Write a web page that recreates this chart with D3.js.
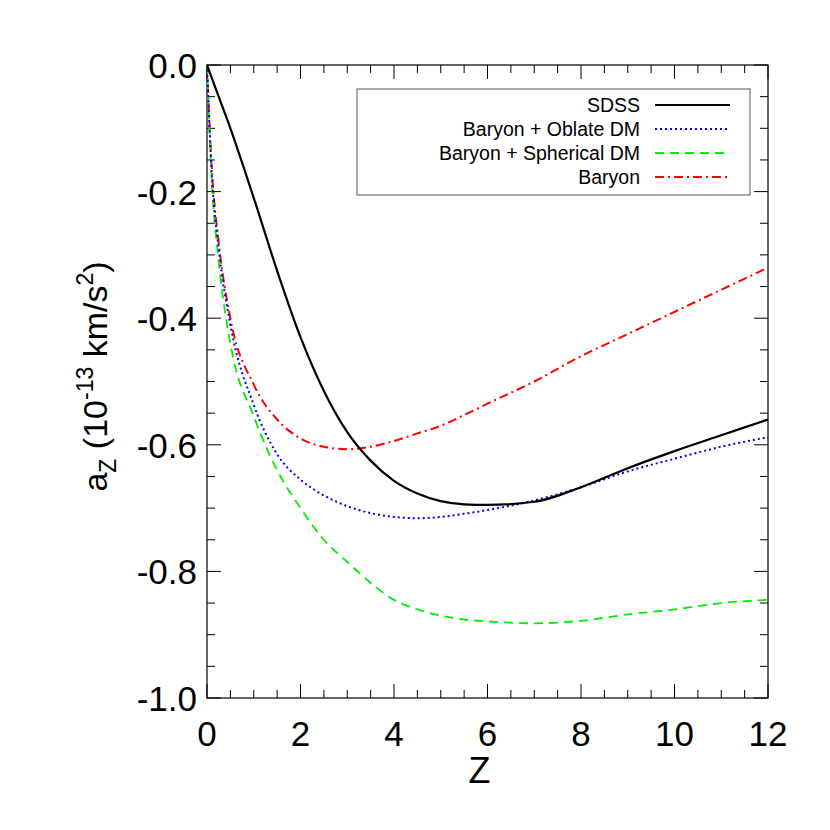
<!DOCTYPE html>
<html><head><meta charset="utf-8">
<script src="https://cdn.jsdelivr.net/npm/d3@7"></script>
<style>body{margin:0;background:#fff}text{font-family:"Liberation Sans",Arial,sans-serif}</style>
</head><body>
<script>
// data
const Z = [0, 0.1, 0.25, 0.5, 1, 1.5, 2, 2.5, 3, 3.5, 4, 4.5, 5, 5.5, 6, 7, 8, 9, 10, 11, 12];
const SDSS = [0, -0.02, -0.05, -0.10, -0.21, -0.325, -0.43, -0.515, -0.58, -0.625, -0.657, -0.677, -0.689, -0.694, -0.695, -0.69, -0.667, -0.637, -0.61, -0.585, -0.56];
const OBLATE = [0, -0.17, -0.29, -0.41, -0.537, -0.615, -0.655, -0.68, -0.697, -0.708, -0.714, -0.716, -0.714, -0.709, -0.703, -0.688, -0.667, -0.642, -0.622, -0.603, -0.588];
const SPHERICAL = [0, -0.18, -0.31, -0.44, -0.555, -0.64, -0.70, -0.75, -0.785, -0.818, -0.845, -0.86, -0.87, -0.876, -0.879, -0.882, -0.878, -0.868, -0.86, -0.85, -0.845];
const BARYON = [0, -0.16, -0.28, -0.40, -0.505, -0.56, -0.59, -0.603, -0.607, -0.603, -0.594, -0.582, -0.57, -0.553, -0.535, -0.5, -0.46, -0.425, -0.39, -0.355, -0.32];
const X_TICKS = [0, 2, 4, 6, 8, 10, 12];
const Y_TICKS = [0, -0.2, -0.4, -0.6, -0.8, -1.0];

const series = [
  {name: "SDSS", vals: SDSS, color: "#000", dash: null, w: 2.2},
  {name: "Baryon + Oblate DM", vals: OBLATE, color: "#0000ff", dash: "2,3", w: 2},
  {name: "Baryon + Spherical DM", vals: SPHERICAL, color: "#00ee00", dash: "9,6", w: 1.8},
  {name: "Baryon", vals: BARYON, color: "#ff0000", dash: "9,4,2,4", w: 2}
];

const W = 830, H = 830;
const L = 207, R = 768, T = 65, B = 698;
const svg = d3.select("body").append("svg").attr("width", W).attr("height", H);
const x = d3.scaleLinear().domain([0, 12]).range([L, R]);
const y = d3.scaleLinear().domain([-1, 0]).range([B, T]);

const tickG = svg.append("g").attr("stroke", "#000").attr("stroke-width", 1);
d3.range(0, 12.01, 0.5).forEach(v => {
  const major = Math.abs(v % 2) < 1e-6;
  const len = major ? 14 : 8;
  tickG.append("line").attr("x1", x(v)).attr("x2", x(v)).attr("y1", B).attr("y2", B - len);
  tickG.append("line").attr("x1", x(v)).attr("x2", x(v)).attr("y1", T).attr("y2", T + len);
});
d3.range(-1, 0.001, 0.05).forEach(v => {
  const major = Math.abs(Math.round(v * 20) % 4) === 0;
  const len = major ? 14 : 8;
  tickG.append("line").attr("y1", y(v)).attr("y2", y(v)).attr("x1", L).attr("x2", L + len);
  tickG.append("line").attr("y1", y(v)).attr("y2", y(v)).attr("x1", R).attr("x2", R - len);
});
svg.append("rect").attr("x", L).attr("y", T).attr("width", R - L).attr("height", B - T)
  .attr("fill", "none").attr("stroke", "#000").attr("stroke-width", 1.2);

X_TICKS.forEach(v => svg.append("text").attr("x", x(v)).attr("y", B + 48)
  .attr("text-anchor", "middle").attr("font-size", 35).text(v));
Y_TICKS.forEach(v => svg.append("text").attr("x", L - 10).attr("y", y(v) + 13)
  .attr("text-anchor", "end").attr("font-size", 35).text(v.toFixed(1)));

svg.append("text").attr("x", (L + R) / 2 - 8).attr("y", 783).attr("text-anchor", "middle")
  .attr("font-size", 36).text("Z");
const yl = svg.append("text").attr("transform", `translate(107,${(T + B) / 2 - 5}) rotate(-90)`)
  .attr("text-anchor", "middle").attr("font-size", 34);
yl.append("tspan").text("a");
yl.append("tspan").attr("font-size", 23).attr("dy", 9).text("Z");
yl.append("tspan").attr("dy", -9).text(" (10");
yl.append("tspan").attr("font-size", 23).attr("dy", -14).text("-13");
yl.append("tspan").attr("dy", 14).text(" km/s");
yl.append("tspan").attr("font-size", 23).attr("dy", -14).text("2");
yl.append("tspan").attr("dy", 14).text(")");

const line = d3.line().x((d, i) => x(Z[i])).y(d => y(d)).curve(d3.curveMonotoneX);
svg.append("clipPath").attr("id", "c").append("rect")
  .attr("x", L).attr("y", T - 2).attr("width", R - L).attr("height", B - T + 2);
series.slice().reverse().forEach(s => {
  svg.append("path").datum(s.vals).attr("d", line).attr("fill", "none")
    .attr("stroke", s.color).attr("stroke-width", s.w)
    .attr("stroke-dasharray", s.dash).attr("clip-path", "url(#c)");
});

// legend
svg.append("rect").attr("x", 357).attr("y", 89).attr("width", 393).attr("height", 106)
  .attr("fill", "#fff").attr("stroke", "#555").attr("stroke-width", 1);
series.forEach((s, i) => {
  const ly = 105 + i * 24;
  svg.append("text").attr("x", 640).attr("y", ly + 7).attr("text-anchor", "end")
    .attr("font-size", 19.5).text(s.name);
  svg.append("line").attr("x1", 655).attr("x2", 730).attr("y1", ly).attr("y2", ly)
    .attr("stroke", s.color).attr("stroke-width", s.w).attr("stroke-dasharray", s.dash);
});
</script>
</body></html>
